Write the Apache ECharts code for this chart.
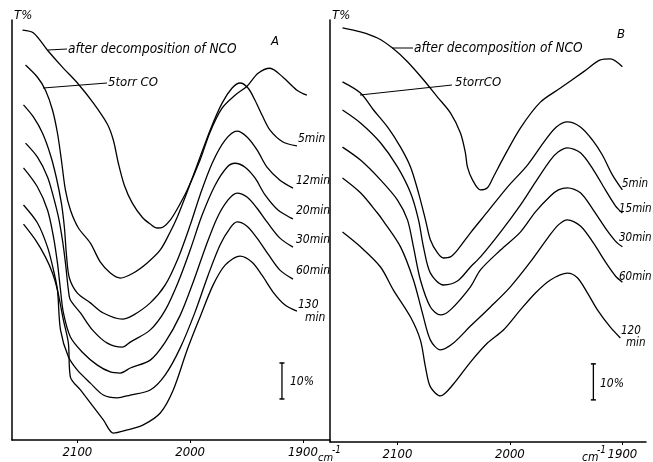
<!DOCTYPE html>
<html>
<head>
<meta charset="utf-8">
<script src="https://cdn.jsdelivr.net/npm/echarts@6/dist/echarts.min.js"></script>
<style>
html,body{margin:0;padding:0;background:#fff;}
#c{width:653px;height:462px;}
</style>
</head>
<body>
<div id="c"></div>
<script>
// ---- Data (wavenumber cm-1, transmittance %) ----
const xTicks = [1900, 2000, 2100];

// Panel A
const aDecomp = [[2148.7,113.9],[2138.9,113.1],[2126.5,108.3],[2113.3,103.6],[2100.0,99.2],[2085.8,93.6],[2073.5,87.8],[2068.1,83.3],[2063.7,76.9],[2058.4,70.8],[2051.3,65.8],[2042.5,61.9],[2035.4,60.0],[2029.2,58.9],[2023.9,59.2],[2017.7,61.1],[2011.5,64.2],[2002.7,69.4],[1991.2,77.8],[1982.3,85.6],[1971.7,92.2],[1960.2,95.8],[1949.6,98.3],[1939.8,101.9],[1929.2,103.3],[1917.7,100.8],[1905.3,97.2],[1896.5,95.8]];
const a5 = [[2146.0,104.2],[2135.4,100.8],[2128.3,97.2],[2122.1,91.7],[2117.7,85.3],[2114.2,77.8],[2110.6,69.4],[2106.2,63.9],[2099.1,58.9],[2088.5,54.7],[2079.6,49.4],[2070.8,46.4],[2061.9,45.0],[2050.4,46.4],[2038.1,49.2],[2026.5,52.8],[2017.7,57.8],[2011.5,61.9],[2002.7,68.9],[1993.8,76.4],[1982.3,86.1],[1971.7,93.6],[1962.8,97.8],[1955.8,99.2],[1948.7,97.8],[1942.5,94.4],[1936.3,90.3],[1929.2,86.1],[1917.7,82.8],[1905.3,81.7]];
const a12 = [[2147.8,93.1],[2138.9,89.7],[2131.0,85.3],[2123.9,79.2],[2118.6,72.8],[2114.2,65.8],[2111.5,58.9],[2109.7,51.4],[2107.1,45.0],[2100.0,40.8],[2088.5,38.1],[2077.0,35.3],[2060.2,33.6],[2050.4,34.7],[2035.4,38.1],[2022.1,43.1],[2010.6,50.6],[2000.0,59.7],[1991.2,68.1],[1980.5,76.9],[1969.0,83.3],[1958.4,85.8],[1949.6,84.2],[1940.7,80.6],[1931.9,75.8],[1920.4,72.2],[1908.8,70.0]];
const a20 = [[2146.0,82.5],[2135.4,78.6],[2126.5,73.1],[2121.2,67.5],[2116.8,61.9],[2113.3,55.6],[2110.6,49.2],[2108.0,41.7],[2106.2,38.9],[2097.3,35.3],[2086.7,30.6],[2073.5,26.9],[2060.2,25.8],[2053.1,27.2],[2035.4,30.6],[2022.1,36.1],[2010.6,43.9],[2000.0,52.8],[1989.4,62.5],[1977.9,70.8],[1967.3,75.8],[1960.2,76.9],[1951.3,75.8],[1942.5,72.8],[1933.6,68.1],[1922.1,63.9],[1908.8,61.4]];
const a30 = [[2147.8,75.6],[2135.4,70.3],[2126.5,63.9],[2121.2,56.4],[2117.7,49.2],[2115.0,41.7],[2112.4,35.3],[2106.2,28.6],[2095.6,24.4],[2082.3,20.8],[2070.8,18.9],[2061.9,18.6],[2053.1,20.0],[2035.4,22.2],[2022.1,27.2],[2008.8,34.7],[1997.3,43.9],[1986.7,53.3],[1976.1,61.7],[1966.4,66.7],[1958.4,68.6],[1949.6,67.5],[1940.7,64.4],[1931.9,60.6],[1920.4,56.1],[1908.8,53.6]];
const a60 = [[2147.8,65.3],[2135.4,60.3],[2126.5,53.6],[2121.2,47.2],[2117.7,41.7],[2115.0,30.6],[2108.0,23.1],[2100.0,19.4],[2088.5,15.8],[2077.0,12.5],[2064.6,11.7],[2053.1,12.5],[2035.4,13.9],[2022.1,18.1],[2008.8,25.6],[1995.6,35.6],[1984.1,45.8],[1973.5,54.2],[1964.6,58.9],[1958.4,60.6],[1949.6,59.4],[1940.7,56.1],[1931.0,51.7],[1920.4,47.2],[1908.8,44.7]];
const a130 = [[2147.8,60.0],[2137.2,55.6],[2128.3,50.8],[2122.1,46.4],[2117.7,41.7],[2112.4,33.3],[2108.0,26.9],[2106.2,17.5],[2097.3,13.9],[2085.8,9.2],[2077.0,5.6],[2068.1,1.9],[2055.8,2.8],[2041.6,4.2],[2026.5,7.5],[2015.0,13.9],[2002.7,25.0],[1991.2,34.2],[1979.6,43.1],[1969.0,48.6],[1955.8,51.1],[1945.1,49.4],[1936.3,45.8],[1926.5,41.1],[1915.9,37.5],[1905.3,35.8]];

// Panel B
const bDecomp = [[2148.9,115.0],[2132.9,113.9],[2117.8,112.2],[2104.4,109.4],[2091.1,105.6],[2076.9,100.6],[2064.4,95.8],[2052.9,91.4],[2044.0,85.8],[2039.6,80.3],[2037.8,76.4],[2033.3,72.8],[2026.2,70.0],[2020.0,70.6],[2014.7,73.6],[2005.8,78.9],[1990.7,87.2],[1972.9,94.4],[1955.1,98.3],[1934.7,102.8],[1919.6,106.1],[1910.7,106.4],[1900.0,104.2]];
const b5 = [[2148.9,100.0],[2132.9,96.9],[2121.3,92.2],[2108.9,87.5],[2097.3,81.9],[2088.4,76.4],[2081.3,69.2],[2075.1,61.7],[2070.7,56.1],[2064.4,52.5],[2059.1,51.1],[2052.9,51.4],[2046.7,53.3],[2035.1,58.1],[2020.0,63.9],[2002.2,70.8],[1984.4,76.9],[1968.4,83.9],[1958.7,87.5],[1948.9,88.9],[1937.3,87.5],[1926.7,83.9],[1917.8,79.7],[1908.9,74.2],[1900.0,70.0]];
const b15 = [[2148.9,92.2],[2132.9,88.6],[2115.1,83.1],[2100.0,76.4],[2088.4,69.2],[2081.3,61.7],[2076.9,54.2],[2070.7,46.9],[2059.1,43.6],[2046.7,44.7],[2035.1,48.6],[2026.2,51.4],[2008.4,58.3],[1990.7,65.8],[1977.3,72.2],[1964.0,78.3],[1956.9,80.6],[1948.9,81.7],[1937.3,80.3],[1925.8,75.6],[1915.1,70.0],[1906.2,65.6],[1900.0,63.6]];
const b30 = [[2148.9,81.9],[2132.9,78.3],[2115.1,72.8],[2100.0,67.2],[2091.1,61.7],[2085.8,54.2],[2079.6,45.0],[2070.7,37.5],[2061.8,35.3],[2052.9,36.7],[2035.1,43.1],[2026.2,47.8],[2008.4,53.3],[1990.7,58.3],[1977.3,63.9],[1964.0,68.3],[1956.9,70.0],[1948.9,70.6],[1937.3,69.2],[1925.8,64.4],[1915.1,59.4],[1906.2,55.8],[1900.0,54.2]];
const b60 = [[2148.9,73.3],[2132.9,69.2],[2117.8,63.6],[2113.3,61.7],[2097.3,54.2],[2085.8,45.0],[2077.8,35.8],[2070.7,28.3],[2061.8,25.6],[2050.2,27.5],[2035.1,32.2],[2017.3,37.5],[1999.6,43.1],[1981.8,50.0],[1965.8,56.9],[1956.9,60.3],[1948.9,61.7],[1937.3,60.0],[1925.8,55.3],[1915.1,50.0],[1906.2,46.1],[1900.0,44.4]];
const b120 = [[2148.9,58.3],[2132.9,54.2],[2115.1,48.6],[2103.6,42.2],[2088.4,34.7],[2079.6,28.3],[2075.1,20.8],[2070.7,15.3],[2061.8,12.8],[2050.2,16.1],[2035.1,22.2],[2020.0,27.5],[2005.8,31.1],[1990.7,36.7],[1977.3,41.4],[1964.0,45.0],[1948.9,46.9],[1940.0,45.6],[1931.1,41.4],[1922.2,36.7],[1910.7,31.9],[1901.8,28.9]];

// 10% scale bars
const barA = [[1918.6,11.4],[1918.6,21.4]];
const barB = [[1925.8,11.7],[1925.8,21.7]];

const FONT = '"DejaVu Sans Condensed","DejaVu Sans",sans-serif';

function curve(data, gi){
  return {type:'line', data:data, xAxisIndex:gi, yAxisIndex:gi, smooth:0.3,
    showSymbol:false, symbol:'none', silent:true,
    lineStyle:{color:'#000', width:1.3}};
}
function bar(data, gi){
  return {type:'line', data:data, xAxisIndex:gi, yAxisIndex:gi, symbol:'rect',
    symbolSize:[5,1.5], showSymbol:true, silent:true,
    itemStyle:{color:'#000'}, lineStyle:{color:'#000', width:1.3}};
}
function xAx(gi, min, max){
  return {type:'value', gridIndex:gi, inverse:true, min:min, max:max,
    axisLine:{show:true, lineStyle:{color:'#000', width:1.5}},
    axisTick:{show:true, inside:false, length:3, customValues:xTicks, lineStyle:{color:'#000'}},
    axisLabel:{show:true, customValues:xTicks, margin:6, color:'#000', fontSize:13,
      fontStyle:'italic', fontFamily:FONT, formatter:function(v){return String(v);}},
    splitLine:{show:false}};
}
function yAx(gi, max){
  return {type:'value', gridIndex:gi, min:0, max:max,
    name:'T%', nameLocation:'end', nameGap:2,
    nameTextStyle:{color:'#000', fontSize:13, fontStyle:'italic', fontFamily:FONT,
      align:'left', verticalAlign:'bottom', padding:[0,0,-4,2]},
    axisLine:{show:true, lineStyle:{color:'#000', width:1.5}},
    axisTick:{show:false}, axisLabel:{show:false}, splitLine:{show:false}};
}
function txt(t, x, y, size){
  return {type:'text', x:x, y:y, silent:true,
    style:{text:t, fill:'#000', font:'italic '+(size||12)+'px '+FONT, verticalAlign:'middle'}};
}
function ln(x1,y1,x2,y2){
  return {type:'line', silent:true, shape:{x1:x1,y1:y1,x2:x2,y2:y2}, style:{stroke:'#000', lineWidth:1}};
}

const chart = echarts.init(document.getElementById('c'), null, {renderer:'canvas'});
chart.setOption({
  animation:false,
  backgroundColor:'#fff',
  grid:[
    {left:12, right:323, top:20, bottom:22},
    {left:330, right:7, top:20, bottom:20}
  ],
  xAxis:[xAx(0, 1876, 2158), xAx(1, 1879, 2160)],
  yAxis:[yAx(0, 116.7), yAx(1, 117.2)],
  series:[
    curve(aDecomp,0), curve(a5,0), curve(a12,0), curve(a20,0), curve(a30,0), curve(a60,0), curve(a130,0),
    curve(bDecomp,1), curve(b5,1), curve(b15,1), curve(b30,1), curve(b60,1), curve(b120,1),
    bar(barA,0), bar(barB,1)
  ],
  graphic:[
    // panel A annotations
    ln(48,50,67,49), txt('after decomposition of NCO',68,49,13.5),
    ln(43,88,107,83), txt('5torr CO',108,83,13),
    txt('A',271,42,13),
    txt('5min',298,139), txt('12min',296,181), txt('20min',296,211), txt('30min',296,240),
    txt('60min',296,271), txt('130',298,305), txt('min',305,318),
    txt('10%',290,382),
    txt('cm',318,458,11), txt('-1',332,450,10),
    // panel B annotations
    ln(392,48,413,48), txt('after decomposition of NCO',414,48,13.5),
    ln(360,95,452,85), txt('5torrCO',455,83,13),
    txt('B',617,35,13),
    txt('5min',622,184,11.5), txt('15min',619,209,11.5), txt('30min',619,238,11.5), txt('60min',619,277,11.5),
    txt('120',621,331,11.5), txt('min',626,343,11.5),
    txt('10%',600,384),
    txt('cm',582,458,12), txt('-1',597,450,10)
  ]
});
</script>
</body>
</html>
